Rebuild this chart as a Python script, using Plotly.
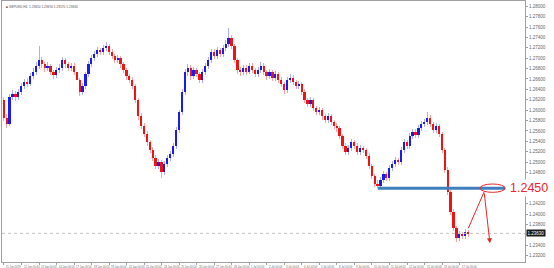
import plotly.graph_objects as go

symbol_title = "GBPUSD,H4  1.23650 1.23690 1.23570 1.23630"

open_ = [1.2619,1.2585,1.2573,1.2625,1.2631,1.2625,1.2635,1.2646,1.2654,1.2650,
1.2665,1.2673,1.2685,1.2696,1.2688,1.2681,1.2685,1.2673,1.2667,1.2677,
1.2681,1.2696,1.2688,1.2681,1.2685,1.2673,1.2658,1.2635,1.2646,1.2669,
1.2688,1.2700,1.2708,1.2715,1.2712,1.2719,1.2723,1.2712,1.2704,1.2696,
1.2700,1.2688,1.2677,1.2665,1.2658,1.2646,1.2619,1.2588,1.2569,1.2554,
1.2538,1.2523,1.2508,1.2492,1.2500,1.2481,1.2496,1.2508,1.2515,1.2531,
1.2562,1.2596,1.2635,1.2673,1.2681,1.2665,1.2677,1.2669,1.2658,1.2673,
1.2685,1.2696,1.2712,1.2704,1.2715,1.2708,1.2719,1.2727,1.2738,1.2723,
1.2696,1.2677,1.2673,1.2681,1.2673,1.2685,1.2677,1.2669,1.2677,1.2685,
1.2673,1.2665,1.2673,1.2662,1.2669,1.2658,1.2650,1.2638,1.2658,1.2662,
1.2654,1.2646,1.2650,1.2635,1.2619,1.2612,1.2619,1.2604,1.2596,1.2600,
1.2588,1.2581,1.2588,1.2577,1.2569,1.2565,1.2550,1.2531,1.2519,1.2527,
1.2538,1.2531,1.2519,1.2527,1.2523,1.2512,1.2492,1.2473,1.2458,1.2454,
1.2465,1.2477,1.2469,1.2488,1.2496,1.2504,1.2500,1.2523,1.2538,1.2531,
1.2550,1.2558,1.2552,1.2565,1.2573,1.2577,1.2585,1.2573,1.2562,1.2569,
1.2554,1.2523,1.2485,1.2442,1.2404,1.2373,1.2354,1.2362,1.2358,1.2365]

close = [1.2585,1.2573,1.2625,1.2631,1.2625,1.2635,1.2646,1.2654,1.2650,1.2665,
1.2673,1.2685,1.2696,1.2688,1.2681,1.2685,1.2673,1.2667,1.2677,1.2681,
1.2696,1.2688,1.2681,1.2685,1.2673,1.2658,1.2635,1.2646,1.2669,1.2688,
1.2700,1.2708,1.2715,1.2712,1.2719,1.2723,1.2712,1.2704,1.2696,1.2700,
1.2688,1.2677,1.2665,1.2658,1.2646,1.2619,1.2588,1.2569,1.2554,1.2538,
1.2523,1.2508,1.2492,1.2500,1.2481,1.2496,1.2508,1.2515,1.2531,1.2562,
1.2596,1.2635,1.2673,1.2681,1.2665,1.2677,1.2669,1.2658,1.2673,1.2685,
1.2696,1.2712,1.2704,1.2715,1.2708,1.2719,1.2727,1.2738,1.2723,1.2696,
1.2677,1.2673,1.2681,1.2673,1.2685,1.2677,1.2669,1.2677,1.2685,1.2673,
1.2665,1.2673,1.2662,1.2669,1.2658,1.2650,1.2638,1.2658,1.2662,1.2654,
1.2646,1.2650,1.2635,1.2619,1.2612,1.2619,1.2604,1.2596,1.2600,1.2588,
1.2581,1.2588,1.2577,1.2569,1.2565,1.2550,1.2531,1.2519,1.2527,1.2538,
1.2531,1.2519,1.2527,1.2523,1.2512,1.2492,1.2473,1.2458,1.2454,1.2465,
1.2477,1.2469,1.2488,1.2496,1.2504,1.2500,1.2523,1.2538,1.2531,1.2550,
1.2558,1.2552,1.2565,1.2573,1.2577,1.2585,1.2573,1.2562,1.2569,1.2554,
1.2523,1.2485,1.2442,1.2404,1.2373,1.2354,1.2362,1.2358,1.2365,1.2363]

high = [1.2626,1.2592,1.2631,1.2638,1.2636,1.2641,1.2653,1.2660,1.2661,1.2671,
1.2681,1.2692,1.2723,1.2702,1.2693,1.2692,1.2689,1.2678,1.2683,1.2688,
1.2703,1.2701,1.2693,1.2691,1.2690,1.2678,1.2662,1.2652,1.2674,1.2694,
1.2706,1.2714,1.2722,1.2720,1.2725,1.2731,1.2727,1.2717,1.2709,1.2707,
1.2704,1.2693,1.2682,1.2670,1.2663,1.2651,1.2624,1.2594,1.2575,1.2560,
1.2543,1.2529,1.2513,1.2507,1.2505,1.2502,1.2514,1.2521,1.2537,1.2567,
1.2601,1.2640,1.2679,1.2689,1.2686,1.2683,1.2682,1.2674,1.2679,1.2691,
1.2702,1.2718,1.2717,1.2721,1.2720,1.2726,1.2735,1.2758,1.2744,1.2728,
1.2701,1.2684,1.2687,1.2686,1.2691,1.2690,1.2682,1.2684,1.2692,1.2690,
1.2678,1.2679,1.2677,1.2675,1.2674,1.2663,1.2655,1.2663,1.2669,1.2667,
1.2659,1.2657,1.2655,1.2640,1.2624,1.2626,1.2624,1.2609,1.2607,1.2605,
1.2593,1.2595,1.2593,1.2582,1.2575,1.2570,1.2555,1.2536,1.2533,1.2545,
1.2543,1.2536,1.2533,1.2532,1.2528,1.2517,1.2497,1.2478,1.2465,1.2471,
1.2483,1.2482,1.2494,1.2502,1.2510,1.2509,1.2529,1.2544,1.2543,1.2556,
1.2564,1.2563,1.2571,1.2579,1.2584,1.2596,1.2590,1.2578,1.2575,1.2574,
1.2559,1.2528,1.2490,1.2447,1.2409,1.2378,1.2368,1.2366,1.2371,1.2369]

low = [1.2579,1.2566,1.2569,1.2619,1.2618,1.2620,1.2630,1.2641,1.2644,1.2646,
1.2660,1.2668,1.2680,1.2682,1.2674,1.2676,1.2667,1.2660,1.2662,1.2672,
1.2676,1.2682,1.2675,1.2676,1.2667,1.2652,1.2628,1.2630,1.2641,1.2664,
1.2683,1.2694,1.2703,1.2706,1.2707,1.2714,1.2706,1.2698,1.2690,1.2691,
1.2682,1.2671,1.2659,1.2652,1.2640,1.2613,1.2582,1.2563,1.2548,1.2532,
1.2517,1.2502,1.2486,1.2487,1.2469,1.2476,1.2491,1.2502,1.2510,1.2526,
1.2557,1.2591,1.2630,1.2666,1.2659,1.2660,1.2663,1.2652,1.2653,1.2668,
1.2680,1.2691,1.2698,1.2699,1.2702,1.2703,1.2713,1.2722,1.2717,1.2690,
1.2670,1.2666,1.2668,1.2667,1.2669,1.2671,1.2663,1.2664,1.2672,1.2667,
1.2659,1.2660,1.2656,1.2657,1.2652,1.2644,1.2631,1.2634,1.2653,1.2648,
1.2640,1.2641,1.2629,1.2613,1.2606,1.2607,1.2598,1.2590,1.2591,1.2582,
1.2575,1.2576,1.2571,1.2563,1.2559,1.2544,1.2525,1.2513,1.2514,1.2522,
1.2525,1.2513,1.2514,1.2517,1.2506,1.2486,1.2467,1.2453,1.2450,1.2451,
1.2460,1.2463,1.2464,1.2483,1.2490,1.2494,1.2495,1.2518,1.2525,1.2526,
1.2545,1.2546,1.2547,1.2560,1.2568,1.2572,1.2567,1.2556,1.2557,1.2548,
1.2517,1.2479,1.2436,1.2398,1.2367,1.2346,1.2349,1.2352,1.2353,1.2357]

date_tick_bars = [0,6,12,18,24,30,36,42,48,54,60,66,72,78,84,90,96,102,108,114,
                  120,126,132,138,144,150,156]
date_tick_labels = ["11 Jun 2019","12 Jun 00:00","13 Jun 00:00","14 Jun 00:00","17 Jun 00:00",
"18 Jun 00:00","19 Jun 00:00","20 Jun 00:00","21 Jun 00:00","24 Jun 00:00","25 Jun 00:00",
"26 Jun 00:00","27 Jun 00:00","28 Jun 00:00","1 Jul 00:00","2 Jul 00:00","3 Jul 00:00",
"4 Jul 00:00","5 Jul 00:00","8 Jul 00:00","9 Jul 00:00","10 Jul 00:00","11 Jul 00:00",
"12 Jul 00:00","15 Jul 00:00","16 Jul 00:00","17 Jul 00:00"]

price_ticks = [1.2320,1.2340,1.2360,1.2380,1.2400,1.2420,1.2440,1.2460,1.2480,1.2500,
1.2520,1.2540,1.2560,1.2580,1.2600,1.2620,1.2640,1.2660,1.2680,1.2700,1.2720,1.2740,
1.2760,1.2780,1.2800]
# price labels hidden behind the drawn text / current price box
covered_ticks = [1.2360, 1.2440, 1.2460]

level_price = 1.2450
level_label = "1.2450"
level_start_bar = 128
current_price = close[-1]

n = len(close)
xs = list(range(n))
up = [c >= o for o, c in zip(open_, close)]
body_col = ["#1a1af2" if u else "#f21212" for u in up]
wick_col = ["rgba(90,90,255,0.5)" if u else "rgba(255,70,70,0.5)" for u in up]

fig = go.Figure()
fig.add_trace(go.Bar(x=xs, y=[h - l for h, l in zip(high, low)], base=low,
                     width=0.34, marker=dict(color=wick_col, line=dict(width=0)),
                     hoverinfo="skip"))
fig.add_trace(go.Bar(x=xs, y=[max(abs(c - o), 0.00008) for o, c in zip(open_, close)],
                     base=[min(o, c) for o, c in zip(open_, close)],
                     width=0.6, marker=dict(color=body_col, line=dict(width=0)),
                     hoverinfo="skip"))

x_min, x_max = -0.68, 178.4
red = "#e8262a"
fig.add_shape(type="line", x0=x_min, x1=x_max, y0=current_price, y1=current_price,
              line=dict(color="#c4c4c4", width=1, dash="dot"))
fig.add_shape(type="line", x0=level_start_bar, x1=171.6, y0=level_price, y1=level_price,
              line=dict(color="#3f7fbf", width=3))
fig.add_shape(type="circle", x0=163.0, x1=171.6, y0=level_price - 0.0008, y1=level_price + 0.0008,
              line=dict(color=red, width=1))
fig.add_shape(type="line", x0=159, y0=1.2373, x1=164.4, y1=level_price - 0.0007,
              line=dict(color=red, width=1))
fig.add_annotation(x=166.4, y=1.2344, ax=164.4, ay=level_price - 0.0007,
                   xref="x", yref="y", axref="x", ayref="y", text="", showarrow=True,
                   arrowhead=2, arrowsize=1, arrowwidth=1, arrowcolor=red)
fig.add_annotation(x=172.6, y=level_price, text=level_label, showarrow=False,
                   xanchor="left", yanchor="middle", bgcolor="white",
                   font=dict(family="Liberation Sans, Arial", size=12.5, color=red))

fig.add_annotation(xref="paper", yref="paper", x=0.004, y=0.994, xanchor="left", yanchor="top",
                   text="■ " + symbol_title, showarrow=False,
                   font=dict(family="Liberation Sans", size=3.2, color="#555"))
for b, t in zip(date_tick_bars, date_tick_labels):
    fig.add_annotation(x=b, xref="x", y=0, yref="paper", yanchor="top", xanchor="left",
                       text=t, showarrow=False, yshift=-0.5,
                       font=dict(family="Liberation Sans", size=2.7, color="#666"))
fig.add_annotation(xref="paper", x=1.0, y=current_price, xanchor="left", yanchor="middle",
                   text="%.5f" % current_price, showarrow=False, bgcolor="#1a1a1a",
                   font=dict(family="Liberation Sans", size=4.5, color="#ffffff"),
                   borderpad=0.5, xshift=1)

tick_text = ["" if any(abs(p - c) < 1e-9 for c in covered_ticks) else "%.5f" % p
             for p in price_ticks]

fig.update_layout(width=554, height=268, margin=dict(l=2, r=29, t=1, b=6),
                  plot_bgcolor="white", paper_bgcolor="white", showlegend=False,
                  barmode="overlay", bargap=0)
fig.update_xaxes(range=[x_min, x_max], showline=True, mirror=True, linecolor="#a0a0a0",
                 linewidth=1, showgrid=False, zeroline=False, showticklabels=False,
                 tickvals=date_tick_bars, ticks="outside", ticklen=2, tickcolor="#a0a0a0")
fig.update_yaxes(range=[1.2308, 1.2810], side="right", showline=True, mirror=True,
                 linecolor="#a0a0a0", linewidth=1, showgrid=False, zeroline=False,
                 tickvals=price_ticks, ticktext=tick_text,
                 ticks="outside", ticklen=2, tickcolor="#a0a0a0",
                 tickfont=dict(family="Liberation Sans", size=4.5, color="#666"))

fig.write_html("out.html")
